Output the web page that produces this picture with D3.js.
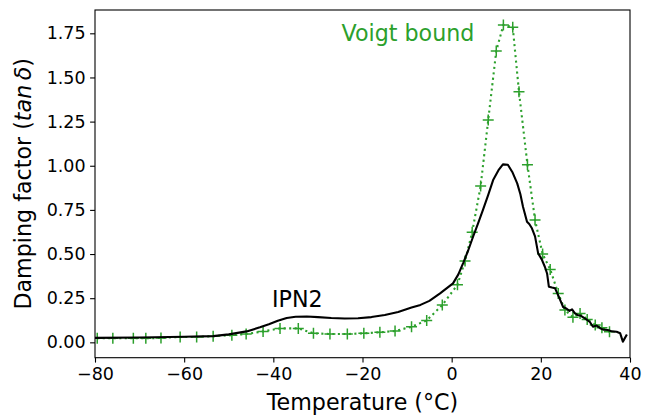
<!DOCTYPE html>
<html>
<head>
<meta charset="utf-8">
<script src="https://cdn.jsdelivr.net/npm/d3@7"></script>
<style>
  body { margin: 0; background: #fff; }
  text { font-family: "DejaVu Sans", sans-serif; }
</style>
</head>
<body>
<svg width="645" height="417"></svg>
<script>
// IPN2 measured damping factor
var ipnTemp = [-80, -70, -60, -53.5, -50, -46, -43, -41, -39, -37, -35, -32.5, -30, -27, -24, -21, -18, -15, -12, -9, -7, -5,
  -2.6, 0.3, 1.5, 2.6, 3.7, 4.8, 5.9, 7.0, 8.2, 9.3, 10.5, 11.5, 12.6, 13.6, 14.7, 15.4, 16.0, 16.9, 17.4, 18.0, 18.7, 19.4,
  20.2, 20.9, 21.4, 21.8, 22.5, 23.2, 24.0, 25.0, 25.8, 26.4, 27.0, 27.6, 28.2, 29.0, 29.6, 30.3, 31.0, 31.7, 32.5, 33.3,
  34.0, 35.0, 36.0, 37.0, 37.8, 38.4, 39.3];
var ipnTan = [0.025, 0.027, 0.032, 0.035, 0.045, 0.062, 0.085, 0.102, 0.122, 0.138, 0.145, 0.146, 0.143, 0.138, 0.135, 0.136, 0.143, 0.155, 0.172, 0.197, 0.212, 0.235,
  0.277, 0.334, 0.385, 0.45, 0.52, 0.598, 0.672, 0.749, 0.835, 0.919, 0.975, 1.008, 1.006, 0.965, 0.9, 0.84, 0.768, 0.683, 0.67, 0.646, 0.6, 0.504,
  0.47, 0.428, 0.39, 0.315, 0.31, 0.306, 0.26, 0.2, 0.19, 0.178, 0.187, 0.165, 0.155, 0.15, 0.14, 0.128, 0.115, 0.088, 0.095, 0.08,
  0.072, 0.07, 0.062, 0.06, 0.051, 0.004, 0.045];

// Voigt bound (markers at each point)
var voigtTemp = [-79.5, -76.0, -71.4, -68.6, -65.2, -60.9, -57.2, -53.5, -49.3, -46.1, -42.3, -38.5, -34.4, -31.0, -27.3, -23.4,
  -19.7, -16.1, -12.7, -9.0, -5.6, -2.1, 1.3, 3.0, 4.6, 6.5, 8.2, 10.0, 11.6, 13.7, 15.1, 17.0, 18.7, 20.4, 22.1, 23.9,
  25.4, 27.2, 28.8, 30.4, 32.2, 33.7, 35.4];
var voigtTan = [0.023, 0.023, 0.023, 0.023, 0.025, 0.03, 0.03, 0.035, 0.04, 0.047, 0.062, 0.079, 0.079, 0.051, 0.047, 0.047,
  0.051, 0.057, 0.064, 0.088, 0.124, 0.211, 0.326, 0.46, 0.624, 0.885, 1.259, 1.65, 1.797, 1.784, 1.419, 1.006, 0.693, 0.5, 0.413, 0.277,
  0.183, 0.142, 0.164, 0.13, 0.098, 0.083, 0.06];

var xTicks = [-80, -60, -40, -20, 0, 20, 40];
var yTicks = [0, 0.25, 0.5, 0.75, 1.0, 1.25, 1.5, 1.75];

var svg = d3.select("svg");
var axLeft = 95, axRight = 630, axTop = 10, axBottom = 357.7;

var x = d3.scaleLinear().domain([-80, 40]).range([axLeft, axRight]);
var y = d3.scaleLinear().domain([-0.087, 1.882]).range([axBottom, axTop]);

var green = "#2ca02c";

var ipn = ipnTemp.map(function (t, i) { return [t, ipnTan[i]]; });
var voigt = voigtTemp.map(function (t, i) { return [t, voigtTan[i]]; });

var line = d3.line()
  .x(function (d) { return x(d[0]); })
  .y(function (d) { return y(d[1]); });

svg.append("clipPath").attr("id", "clip")
  .append("rect").attr("x", axLeft).attr("y", axTop)
  .attr("width", axRight - axLeft).attr("height", axBottom - axTop);

var plot = svg.append("g").attr("clip-path", "url(#clip)");

plot.append("path")
  .attr("d", line(voigt))
  .attr("fill", "none")
  .attr("stroke", green)
  .attr("stroke-width", 2.1)
  .attr("stroke-dasharray", "2.1,3.4");

plot.selectAll(".plus").data(voigt)
  .enter().append("path")
  .attr("class", "plus")
  .attr("transform", function (d) { return "translate(" + x(d[0]) + "," + y(d[1]) + ")"; })
  .attr("d", "M-5.5,0H5.5M0,-5.5V5.5")
  .attr("stroke", green)
  .attr("stroke-width", 1.5);

plot.append("path")
  .attr("d", line(ipn))
  .attr("fill", "none")
  .attr("stroke", "black")
  .attr("stroke-width", 2.1)
  .attr("stroke-linejoin", "round");

// axes
var xAxis = svg.append("g")
  .attr("transform", "translate(0," + axBottom + ")")
  .call(d3.axisBottom(x).tickValues(xTicks).tickFormat(d3.format("d")).tickSize(4.9).tickPadding(4.5));
var yAxis = svg.append("g")
  .attr("transform", "translate(" + axLeft + ",0)")
  .call(d3.axisLeft(y).tickValues(yTicks).tickFormat(d3.format(".2f")).tickSize(4.9).tickPadding(4.5));

[xAxis, yAxis].forEach(function (a) {
  a.select(".domain").remove();
  a.selectAll("line").attr("stroke", "black").attr("stroke-width", 1.1);
  a.selectAll("text").attr("font-family", "DejaVu Sans").attr("font-size", 17.5).attr("fill", "black");
});

svg.append("rect")
  .attr("x", axLeft).attr("y", axTop)
  .attr("width", axRight - axLeft).attr("height", axBottom - axTop)
  .attr("fill", "none").attr("stroke", "black").attr("stroke-width", 1.1);

// labels
svg.append("text")
  .attr("x", (axLeft + axRight) / 2).attr("y", 410)
  .attr("text-anchor", "middle").attr("font-size", 22.2)
  .text("Temperature (°C)");

var yl = svg.append("text")
  .attr("transform", "translate(31," + (axTop + axBottom) / 2 + ") rotate(-90)")
  .attr("text-anchor", "middle").attr("font-size", 22.2);
yl.append("tspan").text("Damping factor (");
yl.append("tspan").attr("font-style", "italic").text("tan\u2009δ");
yl.append("tspan").text(")");

svg.append("text")
  .attr("x", 341.5).attr("y", 40.7)
  .attr("font-size", 22.2).attr("fill", green)
  .text("Voigt bound");

svg.append("text")
  .attr("x", 272).attr("y", 306.7)
  .attr("font-size", 22.2).attr("fill", "black")
  .text("IPN2");
</script>
</body>
</html>
